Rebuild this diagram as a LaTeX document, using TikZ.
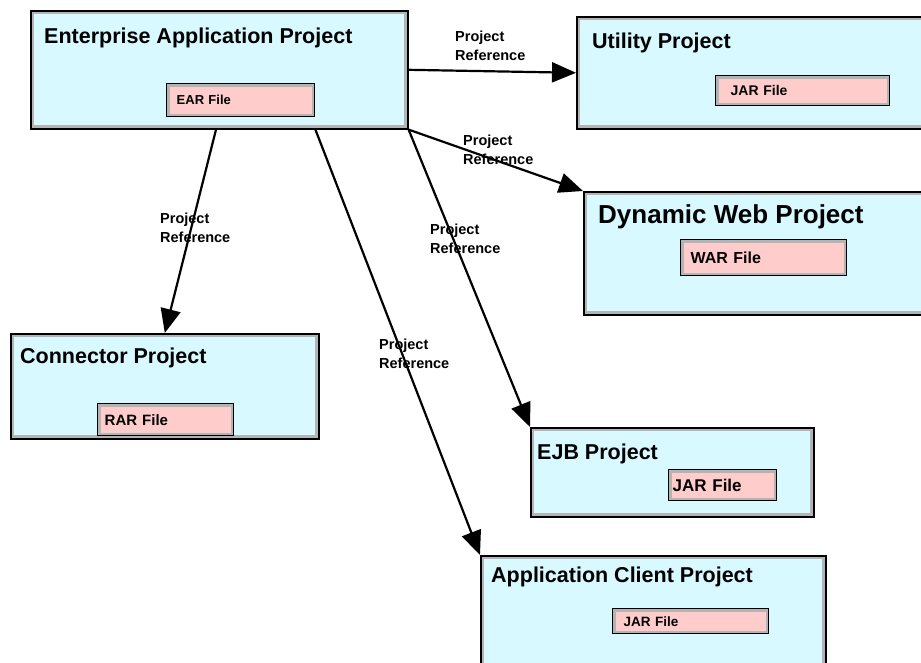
\documentclass[tikz,border=0pt]{standalone}
\usepackage{fontspec}
\setmainfont{Liberation Sans}
\usetikzlibrary{arrows.meta}
\definecolor{projfill}{RGB}{215,249,255}
\definecolor{filefill}{RGB}{255,204,204}
\definecolor{edgegrey}{RGB}{180,180,180}
\begin{document}
\begin{tikzpicture}[x=1pt,y=-1pt,
	projbox/.style={draw=black, line width=1.6pt, fill=projfill, anchor=north west, inner sep=0pt,
		path picture={\draw[edgegrey, line width=7pt] (path picture bounding box.south west) rectangle (path picture bounding box.north east);}},
	filebox/.style={draw=black, line width=1.4pt, fill=filefill, anchor=north west, inner ysep=0pt, inner xsep=10pt,
		align=left, font=\bfseries\fontsize{#1}{#1}\selectfont,
		path picture={\draw[edgegrey, line width=6pt] (path picture bounding box.south west) rectangle (path picture bounding box.north east);}},
	title/.style={anchor=base west, inner sep=0pt, font=\bfseries\fontsize{#1}{#1}\selectfont},
	reflabel/.style={anchor=west, inner sep=0pt, align=left, font=\bfseries\fontsize{14.5}{19}\selectfont},
	ref/.style={line width=2.2pt, -{Triangle[length=24pt,width=20pt]}}]
	\useasboundingbox (0,0) rectangle (921,662);
	\node[projbox, minimum width=377, minimum height=118] (ear)  at (30,10)  {};
	\node[projbox, minimum width=360, minimum height=112] (util) at (576,16) {};
	\node[projbox, minimum width=350, minimum height=123] (web)  at (583,191) {};
	\node[projbox, minimum width=308, minimum height=105] (conn) at (10,333) {};
	\node[projbox, minimum width=283, minimum height=89]  (ejb)  at (530,427) {};
	\node[projbox, minimum width=345, minimum height=120] (app)  at (480,555) {};
	\node[title=21.5] (eartitle)  at (44,43)   {Enterprise Application Project};
	\node[title=21.5] (utiltitle) at (592,48)  {Utility Project};
	\node[title=26]   (webtitle)  at (598,223) {Dynamic Web Project};
	\node[title=21.5] (conntitle) at (20,363)  {Connector Project};
	\node[title=21.5] (ejbtitle)  at (537,459) {EJB Project};
	\node[title=21.5] (apptitle)  at (491,582) {Application Client Project};
	\node[filebox=13,   minimum width=148, minimum height=33, text width=128] (earfile)  at (166,83)  {EAR File};
	\node[filebox=14,   minimum width=174, minimum height=30, text width=144, inner xsep=15pt] (utilfile) at (715,75)  {JAR File};
	\node[filebox=16,   minimum width=166, minimum height=36, text width=146] (webfile)  at (680,239) {WAR File};
	\node[filebox=15,   minimum width=136, minimum height=32, text width=122, inner xsep=7pt] (connfile) at (97,403)  {RAR File};
	\node[filebox=17,   minimum width=108, minimum height=31, text width=100, inner xsep=4pt] (ejbfile)  at (668,469) {JAR File};
	\node[filebox=13.5, minimum width=156, minimum height=25, text width=134, inner xsep=11pt] (appfile)  at (612,608) {JAR File};
	\draw[ref] (ear.east) -- (util.west);
	\draw[ref] (ear.south east) -- (web.north west);
	\draw[ref] ([xshift=186pt]ear.south west) -- (conn.north);
	\draw[ref] (ear.south east) -- (ejb.north west);
	\draw[ref] (earfile.east |- ear.south) -- (app.north west);
	\node[reflabel] (ref1) at (455,46)  {Project\\Reference};
	\node[reflabel] (ref2) at (463,150) {Project\\Reference};
	\node[reflabel] (ref3) at (160,228) {Project\\Reference};
	\node[reflabel] (ref4) at (430,239) {Project\\Reference};
	\node[reflabel] (ref5) at (379,354) {Project\\Reference};
\end{tikzpicture}
\end{document}
